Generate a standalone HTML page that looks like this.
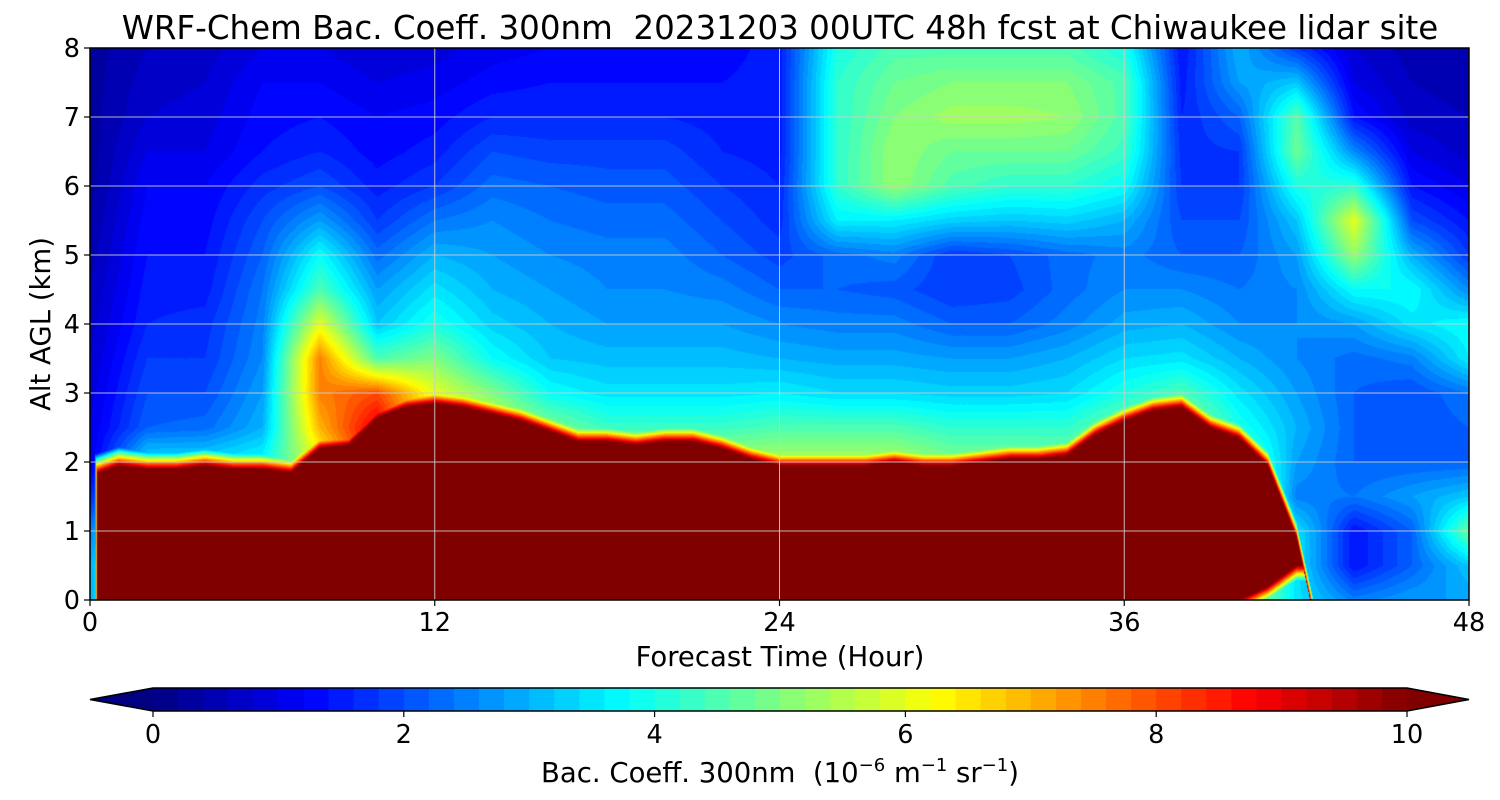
<!DOCTYPE html>
<html><head><meta charset="utf-8">
<style>
body{margin:0;background:#fff;width:1500px;height:800px;overflow:hidden;font-family:"DejaVu Sans","Liberation Sans",sans-serif}
#wrap{position:relative;width:1500px;height:800px}
canvas{position:absolute;left:90px;top:48px}
svg{position:absolute;left:0;top:0}
</style></head><body>
<div id="wrap">
<canvas id="cv" width="1379" height="552"></canvas>
<svg id="sv" width="1500" height="800"></svg>
</div>
<script>
const hours2 = [0,2,4,6,8,10,12,14,16,18,20,22,24,26,28,30,32,34,36,38,40,42,44,46,48];
const altitudes = [0,0.5,1,1.5,2,2.5,3,3.5,4,4.5,5,5.5,6,6.5,7,7.5,8];
const field = [
[3,3,2.5,1.5,1,1,0.9,0.8,0.7,0.6,0.5,0.4,0.3,0.3,0.3,0.3,0.3],
[6,6,6,6,3.5,2.2,2,1.8,1.6,1.5,1.4,1.3,1.2,1.0,0.8,0.7,0.6],
[6,6,6,6,3.5,2.3,2,1.8,1.7,1.5,1.4,1.3,1.2,1.0,0.9,0.8,0.7],
[6,6,6,6,3.8,3,2.8,2.6,2.5,2.4,2.2,2,1.7,1.4,1.3,1.2,1.0],
[6,6,6,6,6,7,7.5,7.5,6,4.5,3.8,2.8,2.0,1.6,1.4,1.2,1.0],
[6,6,6,6,9,9,8,4.5,3.2,2.8,2.3,1.8,1.5,1.3,1.2,1.0,0.8],
[6,6,6,6,6,6,6,5,4,3.5,3,2.4,1.8,1.5,1.3,1.1,0.9],
[6,6,6,6,6,6,5,3.8,3.3,3,2.8,2.6,2.3,2,1.6,1.3,1.1],
[6,6,6,6,6,5,3.8,3.2,3,2.8,2.6,2.4,2.2,1.9,1.6,1.4,1.2],
[6,6,6,6,5.5,4.3,3.5,3.1,2.8,2.6,2.5,2.3,2.1,1.9,1.6,1.4,1.2],
[6,6,6,6,5.5,4.3,3.5,3.1,2.8,2.6,2.5,2.3,2.1,1.9,1.6,1.4,1.2],
[6,6,6,6,5.5,4.3,3.5,3.1,2.8,2.5,2.2,2,1.8,1.6,1.5,1.4,1.3],
[6,6,6,6,5.5,4.5,3.6,3,2.6,2.2,1.9,1.7,1.6,1.5,1.5,1.5,1.5],
[6,6,6,6,5.5,4.5,3.4,2.9,2.5,2.2,2.3,3.6,4.2,4.2,4.2,4.2,4],
[6,6,6,6,5.5,4.5,3.4,2.9,2.5,2.1,2.5,3.6,5.2,5.2,5,4.8,4.5],
[6,6,6,6,5,4.2,3.3,2.8,2.2,1.8,1.8,3.3,4.5,4.8,5.3,5,4.5],
[6,6,6,6,5,4.2,3.3,2.8,2.2,1.9,2,3.2,4.2,4.8,5.3,5,4.5],
[6,6,6,6,5,4.2,3.4,3,2.5,2.3,2.3,3.3,4.2,4.8,5.2,5,4.5],
[6,6,6,6,6,5,4,3.4,2.9,2.6,2.5,3,3.8,4.3,4.5,4.5,4],
[6,6,6,6,6,5.5,4.5,3.5,3,2.6,2.2,2,1.8,1.7,1.6,1.5,1.4],
[6,6,6,6,5,4,3.5,3,2.6,2.4,2.2,2,1.8,1.8,2.2,2.8,3],
[3.5,3.5,3.5,2.5,2.8,3,2.8,2.6,2.6,2.6,2.8,3.2,4,4.8,4.6,3.2,1.8],
[2.5,1.4,1.4,2.4,2.2,2.2,2.2,2.3,2.8,3.8,5.2,6,4.2,2.6,1.4,1.0,0.8],
[2.8,2.2,2.2,2.8,2.2,2,2,2.5,3.5,3.8,3,2,1.4,1,0.7,0.6,0.5],
[2.8,3.2,4.8,3.2,2.2,2.2,2.4,3.6,3.8,2.6,1.8,1.4,1,0.7,0.6,0.5,0.5]
];
const blTop = [1.8,1.95,1.9,1.9,1.95,1.9,1.9,1.85,2.2,2.25,2.65,2.8,2.85,2.8,2.7,2.6,2.45,2.3,2.3,2.25,2.3,2.3,2.2,2.05,1.95,1.95,1.95,1.95,2.0,1.95,1.95,2.0,2.05,2.05,2.1,2.4,2.6,2.75,2.8,2.5,2.35,1.95,0.9,-1,-1,-1,-1,-1,-1];
const blBottom = [0,0,0,0,0,0,0,0,0,0,0,0,0,0,0,0,0,0,0,0,0,0,0,0,0,0,0,0,0,0,0,0,0,0,0,0,0,0,0,0,0,0.2,0.5,0.5,0,0,0,0,0];
const blStartHour = 0.25;
const xTicks = [0,12,24,36,48];
const yTicks = [0,1,2,3,4,5,6,7,8];
const cbTicks = [0,2,4,6,8,10];

const PL=90,PT=48,PW=1379,PH=552;
const xS = t => PL + t/48*PW;
const yS = z => PT + PH - z/8*PH;
function jet(x){x=Math.max(0,Math.min(1,x));const c=v=>Math.max(0,Math.min(1,v));
return [c(1.5-Math.abs(4*x-3)),c(1.5-Math.abs(4*x-2)),c(1.5-Math.abs(4*x-1))];}
function fieldAt(t,z){
  const fi=Math.min(hours2.length-1.0001,t/2), i=Math.floor(fi), a=fi-i;
  const fj=Math.min(altitudes.length-1.0001,z/0.5), j=Math.floor(fj), b=fj-j;
  const f=(ii,jj)=>field[ii][jj];
  return (1-a)*(1-b)*f(i,j)+a*(1-b)*f(i+1,j)+(1-a)*b*f(i,j+1)+a*b*f(i+1,j+1);
}
function lerpH(arr,t){const i=Math.min(47,Math.floor(t)),a=t-i;return arr[i]*(1-a)+arr[i+1]*a;}
function valAt(t,z){
  const f=fieldAt(t,z);
  const top=lerpH(blTop,t), bot=lerpH(blBottom,t);
  let d;
  if(t<blStartHour){ d=(blStartHour-t)*4; if(z>top) d=Math.max(d,z-top); }
  else if(z>=top) d=z-top;
  else if(z<bot) d=bot-z;
  else return 12;
  return Math.max(f, 10-d/0.15*4.5);
}
const cv=document.getElementById('cv'),ctx=cv.getContext('2d');
const img=ctx.createImageData(PW,PH);
for(let py=0;py<PH;py++){const z=(PH-py-0.5)/PH*8;
 for(let px=0;px<PW;px++){const t=(px+0.5)/PW*48;
  let v=valAt(t,z); v=Math.floor(v/0.2)*0.2+0.1;
  const c=jet(v/10); const k=(py*PW+px)*4;
  img.data[k]=c[0]*255;img.data[k+1]=c[1]*255;img.data[k+2]=c[2]*255;img.data[k+3]=255;}}
ctx.putImageData(img,0,0);

const NS='http://www.w3.org/2000/svg',sv=document.getElementById('sv');
function mk(tag,attrs,parent){const e=document.createElementNS(NS,tag);for(const k in attrs)e.setAttribute(k,attrs[k]);(parent||sv).appendChild(e);return e;}
function txt(s,x,y,size,anchor,name){const e=mk('text',{x:x,y:y,'font-size':size,'text-anchor':anchor||'middle','font-family':'DejaVu Sans, Liberation Sans, sans-serif',fill:'#000'});e.textContent=s;

return e;}
xTicks.forEach(t=>{const l=mk('line',{x1:xS(t),x2:xS(t),y1:PT,y2:PT+PH,stroke:'#ccc','stroke-opacity':0.9,'stroke-width':1});


const tk=mk('line',{x1:xS(t),x2:xS(t),y1:PT+PH,y2:PT+PH+6,stroke:'#000','stroke-width':1.2});


txt(String(t),xS(t),PT+PH+31,25.5,'middle','x-tick-label');});
yTicks.forEach(z=>{const l=mk('line',{x1:PL,x2:PL+PW,y1:yS(z),y2:yS(z),stroke:'#ccc','stroke-opacity':0.9,'stroke-width':1});


const tk=mk('line',{x1:PL-6,x2:PL,y1:yS(z),y2:yS(z),stroke:'#000','stroke-width':1.2});


txt(String(z),PL-10,yS(z)+9,25.5,'end','y-tick-label');});
const fr=mk('rect',{x:PL,y:PT,width:PW,height:PH,fill:'none',stroke:'#000','stroke-width':1.5});


txt('WRF-Chem Bac. Coeff. 300nm\u00a0 20231203 00UTC 48h fcst at Chiwaukee lidar site',780,39,32.5,'middle','chart-title');
txt('Forecast Time (Hour)',780,666,27.5,'middle','x-axis-title');
const yt=txt('Alt AGL (km)',0,0,27.5,'middle','y-axis-title');yt.setAttribute('transform','translate(50,324) rotate(-90)');
const CL=153,CR=1407,CT=688,CB=711,cx=v=>CL+v/10*(CR-CL);
for(let i=0;i<50;i++){const v=i*0.2;const c=jet((v+0.1)/10);
 const r=mk('rect',{x:cx(v),y:CT,width:cx(v+0.2)-cx(v)+0.6,height:CB-CT,fill:`rgb(${c.map(q=>Math.round(q*255)).join(',')})`});
 
 }
const lt=mk('polygon',{points:`${CL},${CT} 90,${(CT+CB)/2} ${CL},${CB}`,fill:'rgb(0,0,128)'});


const rt=mk('polygon',{points:`${CR},${CT} 1469,${(CT+CB)/2} ${CR},${CB}`,fill:'rgb(128,0,0)'});


const ob=mk('polygon',{points:`90,${(CT+CB)/2} ${CL},${CT} ${CR},${CT} 1469,${(CT+CB)/2} ${CR},${CB} ${CL},${CB}`,fill:'none',stroke:'#000','stroke-width':1.5});


cbTicks.forEach(v=>{const tk=mk('line',{x1:cx(v),x2:cx(v),y1:CB,y2:CB+6,stroke:'#000','stroke-width':1.2});


txt(String(v),cx(v),CB+32,25.5,'middle','colorbar-tick-label');});
const cl=txt('',780,782,27.5,'middle','colorbar-title');
cl.innerHTML='Bac. Coeff. 300nm\u00a0 (10<tspan dy="-11" font-size="18">−6</tspan><tspan dy="11"> m</tspan><tspan dy="-11" font-size="18">−1</tspan><tspan dy="11"> sr</tspan><tspan dy="-11" font-size="18">−1</tspan><tspan dy="11">)</tspan>';
</script>
</body></html>
